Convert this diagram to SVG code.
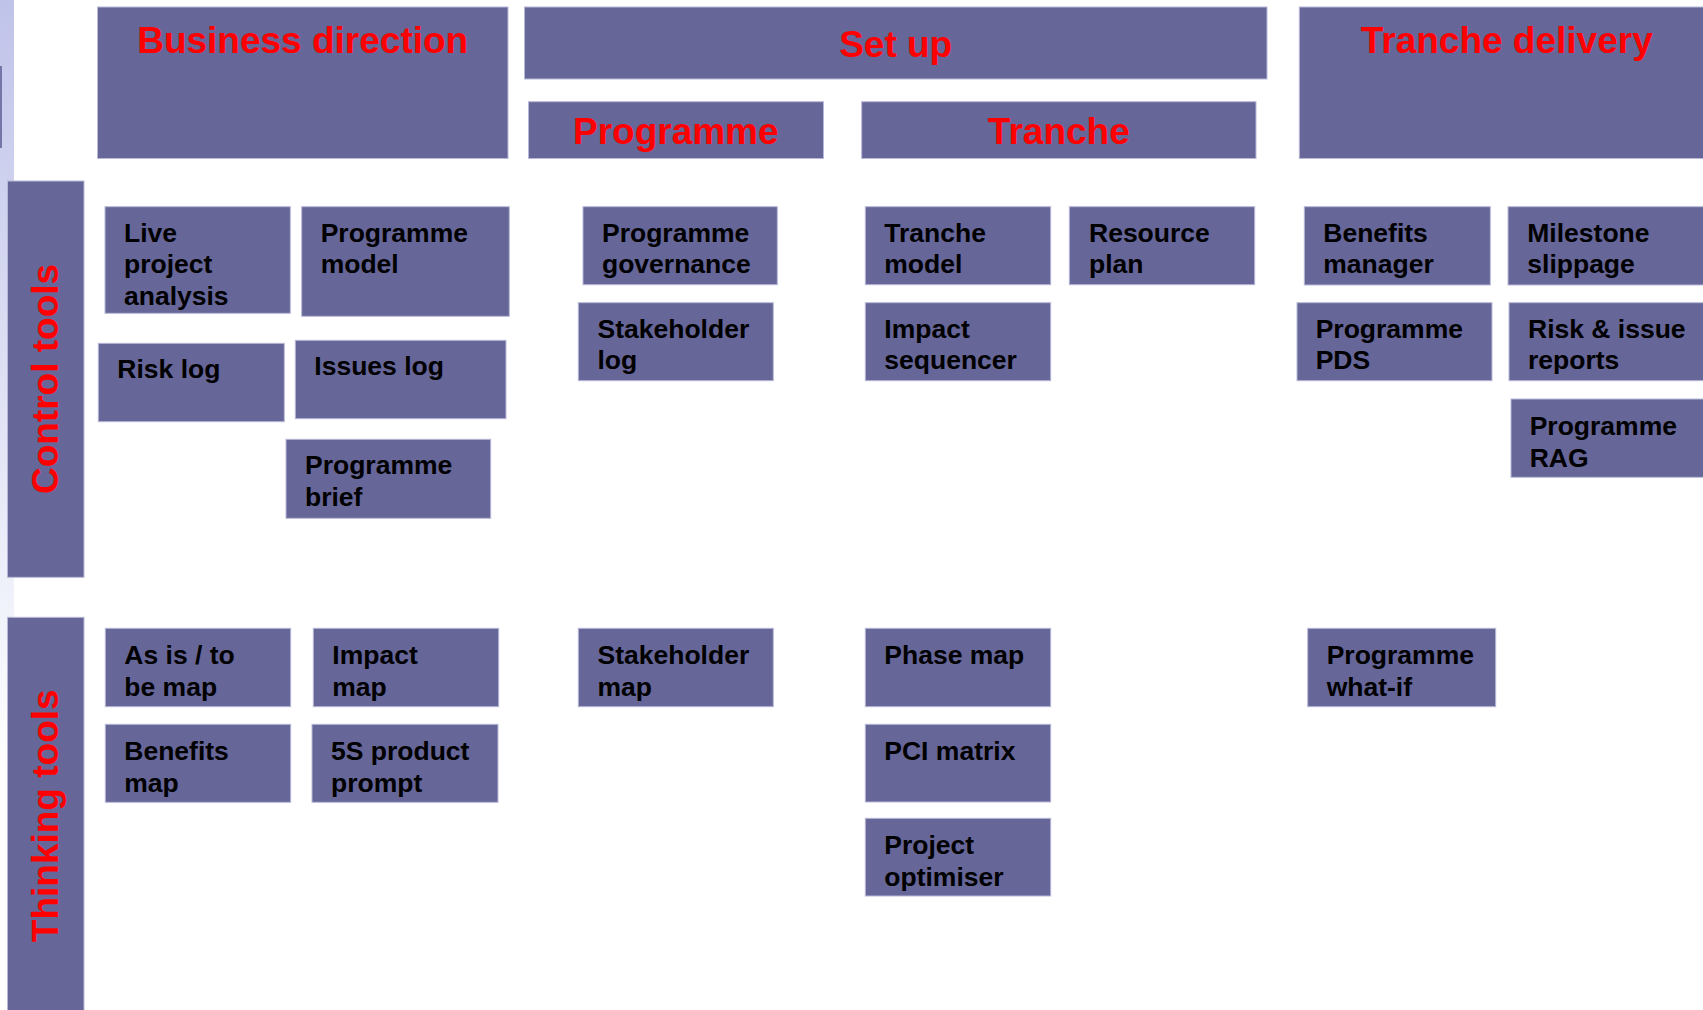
<svg xmlns="http://www.w3.org/2000/svg" width="1703" height="1010" viewBox="0 0 1703 1010">
<defs>
<linearGradient id="strip" x1="0" y1="0" x2="0" y2="1">
<stop offset="0" stop-color="#c0c3e9"/>
<stop offset="0.75" stop-color="#eef0fa"/>
<stop offset="1" stop-color="#ffffff"/>
</linearGradient>
<style>
.box{fill:#666699;stroke:#b8b9d8;stroke-width:1}
.hdr{font-family:"Liberation Sans",Arial,sans-serif;font-weight:bold;font-size:37px;fill:#ff0000;text-anchor:middle}
.lbl{font-family:"Liberation Sans",Arial,sans-serif;font-weight:bold;font-size:26.5px;fill:#000000}
</style>
</defs>
<rect x="0" y="0" width="1703" height="1010" fill="#ffffff"/>
<rect x="0" y="0" width="14" height="770" fill="url(#strip)"/>
<rect x="0" y="66" width="2" height="82" fill="#7476a8"/>

<g id="connectors"/>

<g id="hdr-business">
<rect class="box" x="97.5" y="7" width="410.5" height="151.5"/>
<text class="hdr" x="302.7" y="52.7">Business direction</text>
</g>
<g id="hdr-setup">
<rect class="box" x="524.5" y="7" width="742.5" height="72"/>
<text class="hdr" x="895.7" y="56.7">Set up</text>
</g>
<g id="hdr-programme">
<rect class="box" x="528.5" y="101.7" width="295" height="56.8"/>
<text class="hdr" x="675.8" y="144">Programme</text>
</g>
<g id="hdr-tranche">
<rect class="box" x="861.7" y="101.7" width="394.3" height="56.8"/>
<text class="hdr" x="1058.8" y="144">Tranche</text>
</g>
<g id="hdr-delivery">
<rect class="box" x="1299.3" y="7" width="414.7" height="151.5"/>
<text class="hdr" x="1506.7" y="52.7">Tranche delivery</text>
</g>

<g id="side-control">
<rect class="box" x="7.5" y="181" width="76.5" height="396.3" stroke="#ffffff"/>
<text class="hdr" transform="translate(58,379) rotate(-90)">Control tools</text>
</g>
<g id="side-thinking">
<rect class="box" x="7.5" y="617.3" width="76.5" height="400" stroke="#ffffff"/>
<text class="hdr" transform="translate(58,815.8) rotate(-90)">Thinking tools</text>
</g>

<g id="live-project-analysis">
<rect class="box" x="105" y="206.7" width="185.3" height="106.6"/>
<text class="lbl" x="124" y="241.7">Live</text>
<text class="lbl" x="124" y="273.3">project</text>
<text class="lbl" x="124" y="305">analysis</text>
</g>
<g id="programme-model">
<rect class="box" x="301.7" y="206.7" width="207.6" height="109.6"/>
<text class="lbl" x="320.7" y="241.7">Programme</text>
<text class="lbl" x="320.7" y="273.3">model</text>
</g>
<g id="risk-log">
<rect class="box" x="98.3" y="343.3" width="186" height="78.4"/>
<text class="lbl" x="117.3" y="378.3">Risk log</text>
</g>
<g id="issues-log">
<rect class="box" x="295.3" y="340.3" width="210.7" height="78.4"/>
<text class="lbl" x="314.3" y="375">Issues log</text>
</g>
<g id="programme-brief">
<rect class="box" x="286" y="439.3" width="204.7" height="79"/>
<text class="lbl" x="305" y="474.3">Programme</text>
<text class="lbl" x="305" y="506">brief</text>
</g>

<g id="programme-governance">
<rect class="box" x="583" y="206.7" width="194.3" height="78"/>
<text class="lbl" x="602" y="241.7">Programme</text>
<text class="lbl" x="602" y="273.3">governance</text>
</g>
<g id="stakeholder-log">
<rect class="box" x="578.3" y="302.7" width="195" height="78"/>
<text class="lbl" x="597.5" y="337.7">Stakeholder</text>
<text class="lbl" x="597.5" y="369.3">log</text>
</g>

<g id="tranche-model">
<rect class="box" x="865.3" y="206.7" width="185.4" height="78"/>
<text class="lbl" x="884.3" y="241.7">Tranche</text>
<text class="lbl" x="884.3" y="273.3">model</text>
</g>
<g id="resource-plan">
<rect class="box" x="1069.3" y="206.7" width="185.4" height="78"/>
<text class="lbl" x="1089" y="241.7">Resource</text>
<text class="lbl" x="1089" y="273.3">plan</text>
</g>
<g id="impact-sequencer">
<rect class="box" x="865.3" y="302.7" width="185.4" height="78"/>
<text class="lbl" x="884.3" y="337.7">Impact</text>
<text class="lbl" x="884.3" y="369.3">sequencer</text>
</g>

<g id="benefits-manager">
<rect class="box" x="1304.3" y="206.7" width="186" height="78.3"/>
<text class="lbl" x="1323.3" y="241.7">Benefits</text>
<text class="lbl" x="1323.3" y="273.3">manager</text>
</g>
<g id="milestone-slippage">
<rect class="box" x="1508" y="206.7" width="205" height="78.3"/>
<text class="lbl" x="1527.3" y="241.7">Milestone</text>
<text class="lbl" x="1527.3" y="273.3">slippage</text>
</g>
<g id="programme-pds">
<rect class="box" x="1297" y="302.7" width="195" height="78"/>
<text class="lbl" x="1315.7" y="337.7">Programme</text>
<text class="lbl" x="1315.7" y="369.3">PDS</text>
</g>
<g id="risk-issue-reports">
<rect class="box" x="1509" y="302.7" width="204" height="78"/>
<text class="lbl" x="1528" y="337.7">Risk &amp; issue</text>
<text class="lbl" x="1528" y="369.3">reports</text>
</g>
<g id="programme-rag">
<rect class="box" x="1511" y="399" width="202" height="78.3"/>
<text class="lbl" x="1529.7" y="435">Programme</text>
<text class="lbl" x="1529.7" y="466.7">RAG</text>
</g>

<g id="as-is-to-be-map">
<rect class="box" x="105.3" y="628.3" width="185.4" height="78.4"/>
<text class="lbl" x="124.3" y="664">As is / to</text>
<text class="lbl" x="124.3" y="695.7">be map</text>
</g>
<g id="impact-map">
<rect class="box" x="313.3" y="628.3" width="185.4" height="78.4"/>
<text class="lbl" x="332.3" y="664">Impact</text>
<text class="lbl" x="332.3" y="695.7">map</text>
</g>
<g id="benefits-map">
<rect class="box" x="105.3" y="724.3" width="185.4" height="78"/>
<text class="lbl" x="124.3" y="760">Benefits</text>
<text class="lbl" x="124.3" y="791.7">map</text>
</g>
<g id="5s-product-prompt">
<rect class="box" x="312" y="724.3" width="186" height="78"/>
<text class="lbl" x="331" y="760">5S product</text>
<text class="lbl" x="331" y="791.7">prompt</text>
</g>
<g id="stakeholder-map">
<rect class="box" x="578.3" y="628.3" width="195" height="78.4"/>
<text class="lbl" x="597.5" y="664">Stakeholder</text>
<text class="lbl" x="597.5" y="695.7">map</text>
</g>
<g id="phase-map">
<rect class="box" x="865.3" y="628.3" width="185.4" height="78.4"/>
<text class="lbl" x="884.3" y="664">Phase map</text>
</g>
<g id="pci-matrix">
<rect class="box" x="865.3" y="724.3" width="185.4" height="77.7"/>
<text class="lbl" x="884.3" y="760">PCI matrix</text>
</g>
<g id="project-optimiser">
<rect class="box" x="865.3" y="818.3" width="185.4" height="77.7"/>
<text class="lbl" x="884.3" y="854">Project</text>
<text class="lbl" x="884.3" y="885.7">optimiser</text>
</g>
<g id="programme-what-if">
<rect class="box" x="1307.7" y="628.3" width="188" height="78.4"/>
<text class="lbl" x="1326.7" y="664">Programme</text>
<text class="lbl" x="1326.7" y="695.7">what-if</text>
</g>
</svg>
